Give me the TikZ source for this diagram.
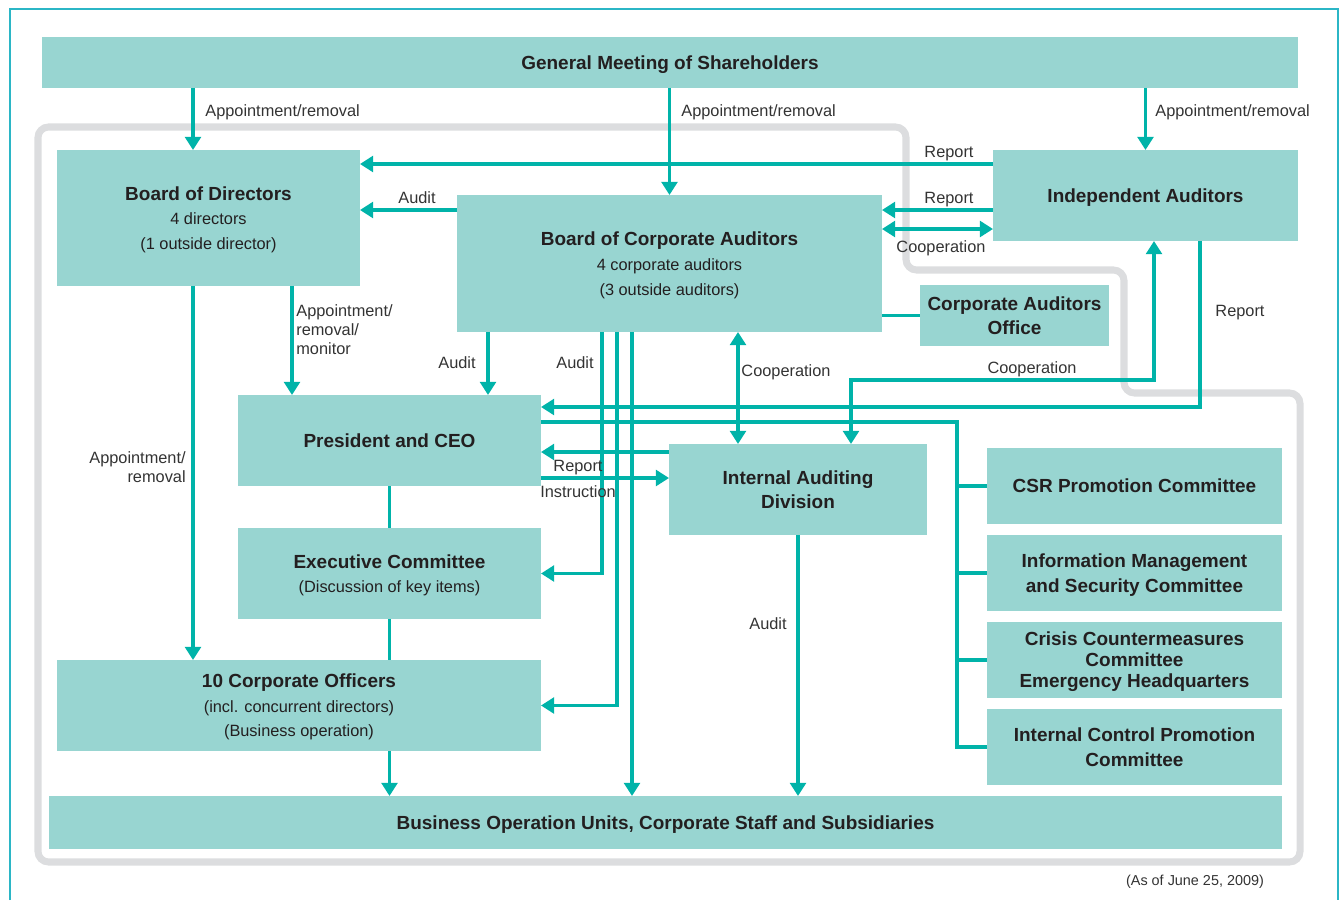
\documentclass[tikz,border=0pt]{standalone}
\usepackage{fontspec}
\setmainfont{Liberation Sans}
\usepackage{xcolor}
\usepackage{tikz}
\usetikzlibrary{positioning,arrows.meta}

\definecolor{boxteal}{HTML}{98D5D1}
\definecolor{lineteal}{HTML}{00B3A9}
\definecolor{frameteal}{HTML}{2BB6C6}
\definecolor{framegray}{HTML}{DCDDDF}
\definecolor{textdark}{HTML}{231F20}
\definecolor{textgray}{HTML}{333333}

\newcommand{\boxtitle}{\fontsize{10.8}{14}\selectfont\bfseries}
\newcommand{\boxsub}{\fontsize{9.3}{14}\selectfont}
\newcommand{\lblfont}{\fontsize{9.3}{10.8}\selectfont}

\begin{document}
\begin{tikzpicture}[
  x=0.02cm, y=-0.02cm,
  box/.style={fill=boxteal, inner sep=0pt, outer sep=0pt, align=center, text=textdark, text depth=0pt, font=\boxtitle},
  subbox/.style={box, font=\boxsub},
  com/.style={box, minimum width=5.9cm, minimum height=1.52cm},
  line/.style={draw=lineteal, line width=1.8pt},
  arr/.style={line, -{Triangle[length=7.5pt,width=9pt]}},
  darr/.style={line, {Triangle[length=7.5pt,width=9pt]}-{Triangle[length=7.5pt,width=9pt]}},
  lbl/.style={font=\lblfont, text=textgray, inner sep=0pt, text depth=0pt}
]
\useasboundingbox (0,0) rectangle (1339,900);

% Outer frame and grey boundary
\draw[frameteal, line width=1.2pt] (10,900) |- (1338,9) -- (1338,900);
\draw[framegray, line width=4pt, rounded corners=6pt] (38,127) -- (906,127) -- (906,270) -- (1124,270) -- (1124,393) -- (1300,393) -- (1300,862) -- (38,862) -- cycle;

% Lanes and rows for the connectors
\coordinate (xbod) at (193,0);
\coordinate (xmon) at (292,0);
\coordinate (xaud) at (488,0);
\coordinate (xexc) at (602,0);
\coordinate (xcof) at (617,0);
\coordinate (xbou) at (632,0);
\coordinate (xcoop) at (738,0);
\coordinate (xiadc) at (851,0);
\coordinate (xbus) at (957,0);
\coordinate (xiac) at (1154,0);
\coordinate (xiar) at (1200,0);
\coordinate (yrep) at (0,164);
\coordinate (yaud) at (0,210);
\coordinate (ycoop) at (0,229);
\coordinate (yiac) at (0,380);
\coordinate (yiar) at (0,407);
\coordinate (ybus) at (0,422);
\coordinate (yirep) at (0,452);
\coordinate (yins) at (0,478);

% Boxes
\node[box, minimum width=25.12cm, minimum height=1.02cm] (gm) at (670,62.5) {General Meeting of Shareholders};
\node[subbox, minimum width=6.06cm, minimum height=2.72cm] (bod) at (208.5,218) {{\boxtitle Board of Directors}\\4 directors\\(1 outside director)};
\node[subbox, minimum width=8.5cm, minimum height=2.74cm] (bca) at (669.5,263.5) {{\boxtitle Board of Corporate Auditors}\\[0.5pt]4 corporate auditors\\(3 outside auditors)};
\node[box, minimum width=6.1cm, minimum height=1.82cm] (ia) at (1145.5,195.5) {Independent Auditors};
\node[box, minimum width=3.78cm, minimum height=1.22cm] (cao) at (1014.5,315.5) {Corporate Auditors\\Office};
\node[box, minimum width=6.06cm, minimum height=1.82cm] (ceo) at (389.5,440.5) {President and CEO};
\node[box, minimum width=5.16cm, minimum height=1.82cm] (iad) at (798,489.5) {Internal Auditing\\Division};
\node[subbox, minimum width=6.06cm, minimum height=1.82cm] (exc) at (389.5,573.5) {{\boxtitle Executive Committee}\\(Discussion of key items)};
\node[subbox, minimum width=9.68cm, minimum height=1.82cm] (cof) at (299,705.5) {{\boxtitle 10 Corporate Officers}\\(incl. concurrent directors)\\(Business operation)};
\node[box, minimum width=24.66cm, minimum height=1.06cm] (bou) at (665.5,822.5) {Business Operation Units, Corporate Staff and Subsidiaries};

\node[com] (csr) at (1134.5,486) {CSR Promotion Committee};
\node[com] (ims) at (1134.5,573) {Information Management\\and Security Committee};
\node[com] (ccm) at (1134.5,660) {Crisis Countermeasures\\[-2pt]Committee\\[-2pt]Emergency Headquarters};
\node[com] (icp) at (1134.5,747) {Internal Control Promotion\\Committee};

% Appointments from the shareholders
\draw[arr] (gm.south -| xbod) -- (bod.north -| xbod);
\node[lbl, anchor=west] (ap1) at (205,111) {Appointment/removal};
\draw[arr] (gm.south -| bca.north) -- (bca.north);
\node[lbl, anchor=west] (ap2) at (681,111) {Appointment/removal};
\draw[arr] (gm.south -| ia.north) -- (ia.north);
\node[lbl, anchor=west] (ap3) at (1155,111) {Appointment/removal};

% Auditors' reports and cooperation
\draw[arr] (ia.west |- yrep) -- (bod.east |- yrep);
\node[lbl] (rep1) at (949,152) {Report};
\draw[arr] (bca.west |- yaud) -- (bod.east |- yaud);
\node[lbl] (aud1) at (417,198) {Audit};
\draw[arr] (ia.west |- yaud) -- (bca.east |- yaud);
\node[lbl] (rep2) at (949,198) {Report};
\draw[darr] (bca.east |- ycoop) -- (ia.west |- ycoop);
\node[lbl] (coop1) at (941,247) {Cooperation};
\draw[line] (bca.east |- cao.west) -- (cao.west);

% Board of Directors downwards
\draw[arr] (bod.south -| xmon) -- (ceo.north -| xmon);
\node[lbl, anchor=west, align=left] (mon) at (296,330) {Appointment/\\removal/\\monitor};
\draw[arr] (bod.south -| xbod) -- (cof.north -| xbod);
\node[lbl, anchor=east, align=right] (ap4) at (186,467) {Appointment/\\removal};

% Corporate auditors downwards
\draw[arr] (bca.south -| xaud) -- (ceo.north -| xaud);
\node[lbl] (aud2) at (457,363) {Audit};
\draw[arr] (bca.south -| xexc) |- (exc.east);
\node[lbl] (aud3) at (575,363) {Audit};
\draw[arr] (bca.south -| xcof) |- (cof.east);
\draw[arr] (bca.south -| xbou) -- (bou.north -| xbou);
\draw[darr] (bca.south -| xcoop) -- (iad.north -| xcoop);
\node[lbl] (coop2) at (786,371) {Cooperation};

% Independent auditors to internal auditing and CEO
\draw[darr] (ia.south -| xiac) |- (xiadc |- yiac) -- (iad.north -| xiadc);
\node[lbl] (coop3) at (1032,368) {Cooperation};
\draw[arr] (ia.south -| xiar) |- (ceo.east |- yiar);
\node[lbl] (rep3) at (1240,311) {Report};

% CEO to committees
\draw[line] (ceo.east |- ybus) -| (xbus |- icp.west) -- (icp.west);
\draw[line] (xbus |- csr.west) -- (csr.west);
\draw[line] (xbus |- ims.west) -- (ims.west);
\draw[line] (xbus |- ccm.west) -- (ccm.west);

% CEO and internal auditing
\draw[arr] (iad.west |- yirep) -- (ceo.east |- yirep);
\node[lbl] (rep4) at (578,466) {Report};
\draw[arr] (ceo.east |- yins) -- (iad.west |- yins);
\node[lbl] (ins) at (578,492) {Instruction};

% Executive line
\draw[line] (ceo.south) -- (exc.north);
\draw[line] (exc.south) -- (cof.north -| exc.south);
\draw[arr] (cof.south -| exc.south) -- (bou.north -| exc.south);
\draw[arr] (iad.south) -- (bou.north -| iad.south);
\node[lbl] (aud4) at (768,624) {Audit};

\node[font=\fontsize{8.2}{10}\selectfont, text=textgray, inner sep=0pt] (asof) at (1195,882) {(As of June 25, 2009)};

\end{tikzpicture}
\end{document}
